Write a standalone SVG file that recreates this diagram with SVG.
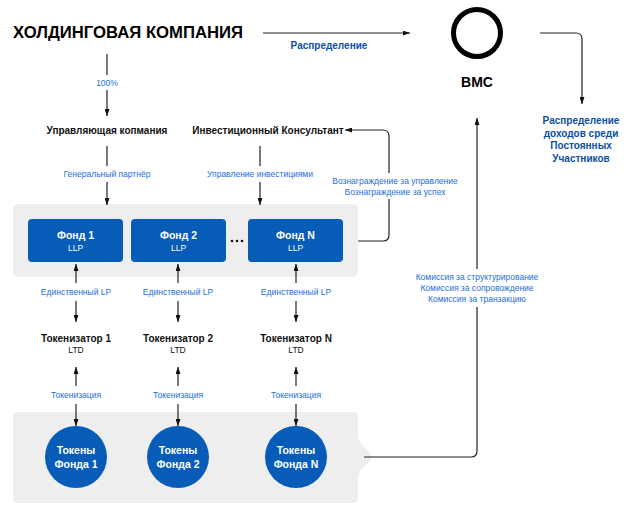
<svg xmlns="http://www.w3.org/2000/svg" width="640" height="517" viewBox="0 0 640 517">
<defs>
<marker id="ah" viewBox="0 0 7 5" refX="7" refY="2.5" markerWidth="7" markerHeight="5" markerUnits="userSpaceOnUse" orient="auto-start-reverse">
<path d="M0,0 L7,2.5 L0,5 z" fill="#111"/>
</marker>
<style>
.t{font-family:"Liberation Sans","Noto Sans",sans-serif;text-anchor:middle}
.h{font-weight:bold;font-size:10px;fill:#111}
.l{font-size:8.5px;fill:#1e6fd9}
.d{font-weight:bold;font-size:10px;fill:#0b4fa3}
.w{font-weight:bold;font-size:10.5px;fill:#fff}
.ws{font-size:8.5px;fill:#fff}
.s{font-size:8.5px;fill:#111}
.c{fill:none;stroke:#222;stroke-width:1.2}
.fund{fill:#075cb8}
.panel{fill:#eeeeee}
</style>
</defs>
<rect width="640" height="517" fill="#fff"/>

<g id="panel-funds"><rect class="panel" x="13" y="204" width="345" height="73" rx="5"/></g>
<g id="panel-tokens"><path class="panel" d="M18,412 H353 Q358,412 358,417 V437 C358,445 371,450 371,457 C371,464 358,469 358,477 V498 Q358,503 353,503 H18 Q13,503 13,498 V417 Q13,412 18,412 Z"/></g>

<g id="connectors">
<path class="c" d="M263,33 H410" marker-end="url(#ah)"/>
<path class="c" d="M540,33 H576 Q582,33 582,39 V104" marker-end="url(#ah)"/>
<path class="c" d="M107,54 V75"/>
<path class="c" d="M107,90 V116" marker-end="url(#ah)"/>
<path class="c" d="M107,146 V166"/>
<path class="c" d="M107,182 V205" marker-end="url(#ah)"/>
<path class="c" d="M260,146 V166"/>
<path class="c" d="M260,182 V205" marker-end="url(#ah)"/>
<path class="c" d="M358,241 H383 Q389,241 389,235 V199"/>
<path class="c" d="M389,173 V136 Q389,130 383,130 H345" marker-end="url(#ah)"/>
<path class="c" d="M364,457 H471 Q477,457 477,451 V307"/>
<path class="c" d="M477,269 V118" marker-end="url(#ah)"/>
<path class="c" d="M76,283 V264" marker-end="url(#ah)"/>
<path class="c" d="M76,301 V322" marker-end="url(#ah)"/>
<path class="c" d="M178,283 V264" marker-end="url(#ah)"/>
<path class="c" d="M178,301 V322" marker-end="url(#ah)"/>
<path class="c" d="M296,283 V264" marker-end="url(#ah)"/>
<path class="c" d="M296,301 V322" marker-end="url(#ah)"/>
<path class="c" d="M76,386 V367" marker-end="url(#ah)"/>
<path class="c" d="M76,404 V426" marker-end="url(#ah)"/>
<path class="c" d="M178,386 V367" marker-end="url(#ah)"/>
<path class="c" d="M178,404 V426" marker-end="url(#ah)"/>
<path class="c" d="M296,386 V367" marker-end="url(#ah)"/>
<path class="c" d="M296,404 V426" marker-end="url(#ah)"/>
</g>

<g id="labels" class="t">
<text class="d" x="329" y="49">Распределение</text>
<text class="l" x="107" y="86">100%</text>
<text class="l" x="107" y="177">Генеральный партнёр</text>
<text class="l" x="260" y="177">Управление инвестициями</text>
<text class="l" x="395" y="184">Вознаграждение за управление</text>
<text class="l" x="395" y="194.5">Вознаграждение за успех</text>
<text class="l" x="477" y="280">Комиссия за структурирование</text>
<text class="l" x="477" y="291">Комиссия за сопровождение</text>
<text class="l" x="477" y="302">Комиссия за транзакцию</text>
<text class="l" x="76" y="295">Единственный LP</text>
<text class="l" x="178" y="295">Единственный LP</text>
<text class="l" x="296" y="295">Единственный LP</text>
<text class="l" x="76" y="398">Токенизация</text>
<text class="l" x="178" y="398">Токенизация</text>
<text class="l" x="296" y="398">Токенизация</text>
</g>

<g id="holding"><text class="t" x="128" y="38" style="font-weight:900;font-size:16px;fill:#000" textLength="230" lengthAdjust="spacingAndGlyphs">ХОЛДИНГОВАЯ КОМПАНИЯ</text></g>

<g id="bmc">
<circle cx="477" cy="33" r="23.5" fill="none" stroke="#000" stroke-width="5"/>
<text class="t" x="477" y="87" style="font-weight:bold;font-size:14px;fill:#000">BMC</text>
</g>

<g id="distribution" class="t">
<text class="d" x="581" y="124">Распределение</text>
<text class="d" x="581" y="137">доходов среди</text>
<text class="d" x="581" y="149">Постоянных</text>
<text class="d" x="581" y="162">Участников</text>
</g>

<g id="mgmt"><text class="t h" x="107" y="134">Управляющая копмания</text></g>
<g id="consultant"><text class="t h" x="268" y="134">Инвестиционный Консультант</text></g>

<g id="fund1"><rect class="fund" x="28" y="219" width="95" height="43" rx="4"/><text class="t w" x="75.5" y="239">Фонд 1</text><text class="t ws" x="75.5" y="251">LLP</text></g>
<g id="fund2"><rect class="fund" x="131" y="219" width="95" height="43" rx="4"/><text class="t w" x="178.5" y="239">Фонд 2</text><text class="t ws" x="178.5" y="251">LLP</text></g>
<g id="dots"><circle cx="232" cy="241" r="1.3" fill="#111"/><circle cx="237" cy="241" r="1.3" fill="#111"/><circle cx="242" cy="241" r="1.3" fill="#111"/></g>
<g id="fundN"><rect class="fund" x="248" y="219" width="95" height="43" rx="4"/><text class="t w" x="295.5" y="239">Фонд N</text><text class="t ws" x="295.5" y="251">LLP</text></g>

<g id="tok1" class="t"><text class="h" x="76" y="342">Токенизатор 1</text><text class="s" x="76" y="353">LTD</text></g>
<g id="tok2" class="t"><text class="h" x="178" y="342">Токенизатор 2</text><text class="s" x="178" y="353">LTD</text></g>
<g id="tokN" class="t"><text class="h" x="296" y="342">Токенизатор N</text><text class="s" x="296" y="353">LTD</text></g>

<g id="tokens1" class="t"><circle class="fund" cx="76" cy="457" r="31"/><text class="w" x="76" y="454">Токены</text><text class="w" x="76" y="468">Фонда 1</text></g>
<g id="tokens2" class="t"><circle class="fund" cx="178" cy="457" r="31"/><text class="w" x="178" y="454">Токены</text><text class="w" x="178" y="468">Фонда 2</text></g>
<g id="tokensN" class="t"><circle class="fund" cx="296" cy="457" r="31"/><text class="w" x="296" y="454">Токены</text><text class="w" x="296" y="468">Фонда N</text></g>
</svg>
